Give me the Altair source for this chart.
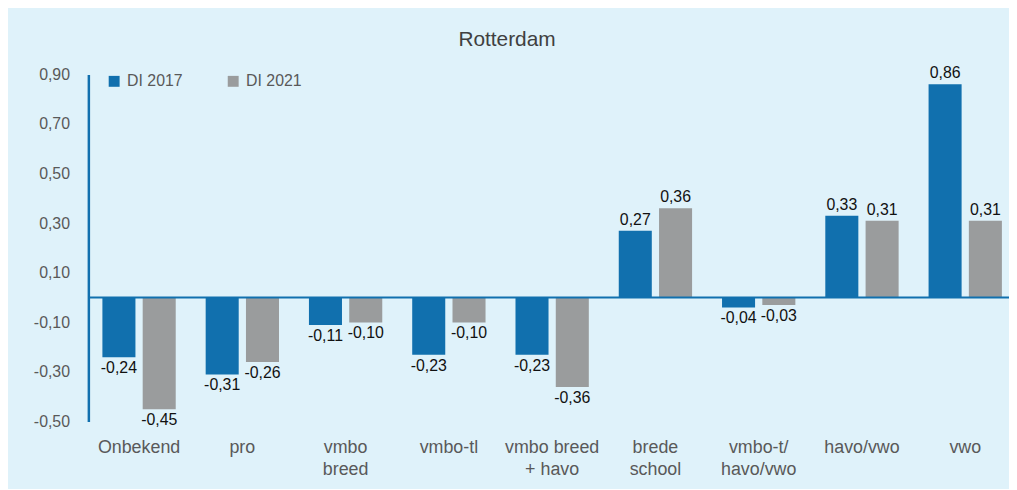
import altair as alt
import pandas as pd

categories = ["Onbekend", "pro", "vmbo|breed", "vmbo-tl", "vmbo breed|+ havo",
              "brede|school", "vmbo-t/|havo/vwo", "havo/vwo", "vwo"]
series = ["DI 2017", "DI 2021"]
di2017 = [-0.24, -0.31, -0.11, -0.23, -0.23, 0.27, -0.04, 0.33, 0.86]
di2021 = [-0.45, -0.26, -0.10, -0.10, -0.36, 0.36, -0.03, 0.31, 0.31]
y_ticks = [-0.5, -0.3, -0.1, 0.1, 0.3, 0.5, 0.7, 0.9]

BLUE = "#1170ae"
GREY = "#9a9c9d"
BG = "#dff2fa"
FONT = "Liberation Sans"

rows = []
for s, vals in zip(series, [di2017, di2021]):
    for c, v in zip(categories, vals):
        lab = ("-" if v < 0 else "") + f"{abs(v):.2f}".replace(".", ",")
        rows.append({"cat": c, "series": s, "value": v, "label": lab})
df = pd.DataFrame(rows)

x_enc = alt.X("cat:N", sort=categories, title=None,
              scale=alt.Scale(paddingInner=0.29, paddingOuter=0.136, range=[0, 935]),
              axis=alt.Axis(labelExpr="split(datum.value, '|')", domain=False, ticks=False,
                            labelAngle=0, labelFont=FONT, labelFontSize=18,
                            labelColor="#595959", labelPadding=17, labelLineHeight=22))
xoff = alt.XOffset("series:N", sort=series, scale=alt.Scale(paddingInner=0.18, paddingOuter=0))
y_enc = alt.Y("value:Q", title=None,
              scale=alt.Scale(domain=[-0.5, 0.9], nice=False, zero=False),
              axis=alt.Axis(values=y_ticks, grid=False, ticks=False, domainColor=BLUE,
                            domainWidth=2.5, labelFont=FONT, labelFontSize=16,
                            labelColor="#595959", labelPadding=19,
                            labelExpr="(datum.value < 0 ? '-' : '') + replace(format(abs(datum.value), '.2f'), '.', ',')"))

base = alt.Chart(df)

bars = base.mark_bar().encode(
    x=x_enc, xOffset=xoff, y=y_enc, y2=alt.datum(0),
    color=alt.Color("series:N", sort=series,
                    scale=alt.Scale(domain=series, range=[BLUE, GREY]),
                    legend=alt.Legend(title=None, orient="none", legendX=18, legendY=-1,
                                      direction="horizontal", symbolType="square",
                                      symbolSize=121, labelFont=FONT, labelFontSize=16,
                                      labelColor="#595959", columnPadding=42,
                                      symbolStrokeWidth=0, labelOffset=5))
)

zero = alt.Chart(pd.DataFrame({"z": [0]})).mark_rule(color=BLUE, strokeWidth=2).encode(y=alt.Y("z:Q"))

pos_text = base.transform_filter("datum.value >= 0").mark_text(
    baseline="bottom", dy=-3, font=FONT, fontSize=16, color="#111111"
).encode(x=alt.X("cat:N", sort=categories), xOffset=xoff, y="value:Q", text="label:N")

neg_text = base.transform_filter("datum.value < 0").mark_text(
    baseline="top", dy=3, font=FONT, fontSize=16, color="#111111"
).encode(x=alt.X("cat:N", sort=categories), xOffset=xoff, y="value:Q", text="label:N")

chart = alt.layer(bars, zero, pos_text, neg_text).properties(
    width=928, height=350,
    title=alt.TitleParams("Rotterdam", font=FONT, fontSize=21, fontWeight="normal",
                          color="#404040", anchor="middle", dx=-42, offset=16),
    autosize=alt.AutoSizeParams(type="none"),
    padding={"left": 81, "top": 65, "right": 0, "bottom": 66},
).configure(background=BG).configure_view(stroke=None)

chart.save("out.html", embed_options={"renderer": "svg", "actions": False})
